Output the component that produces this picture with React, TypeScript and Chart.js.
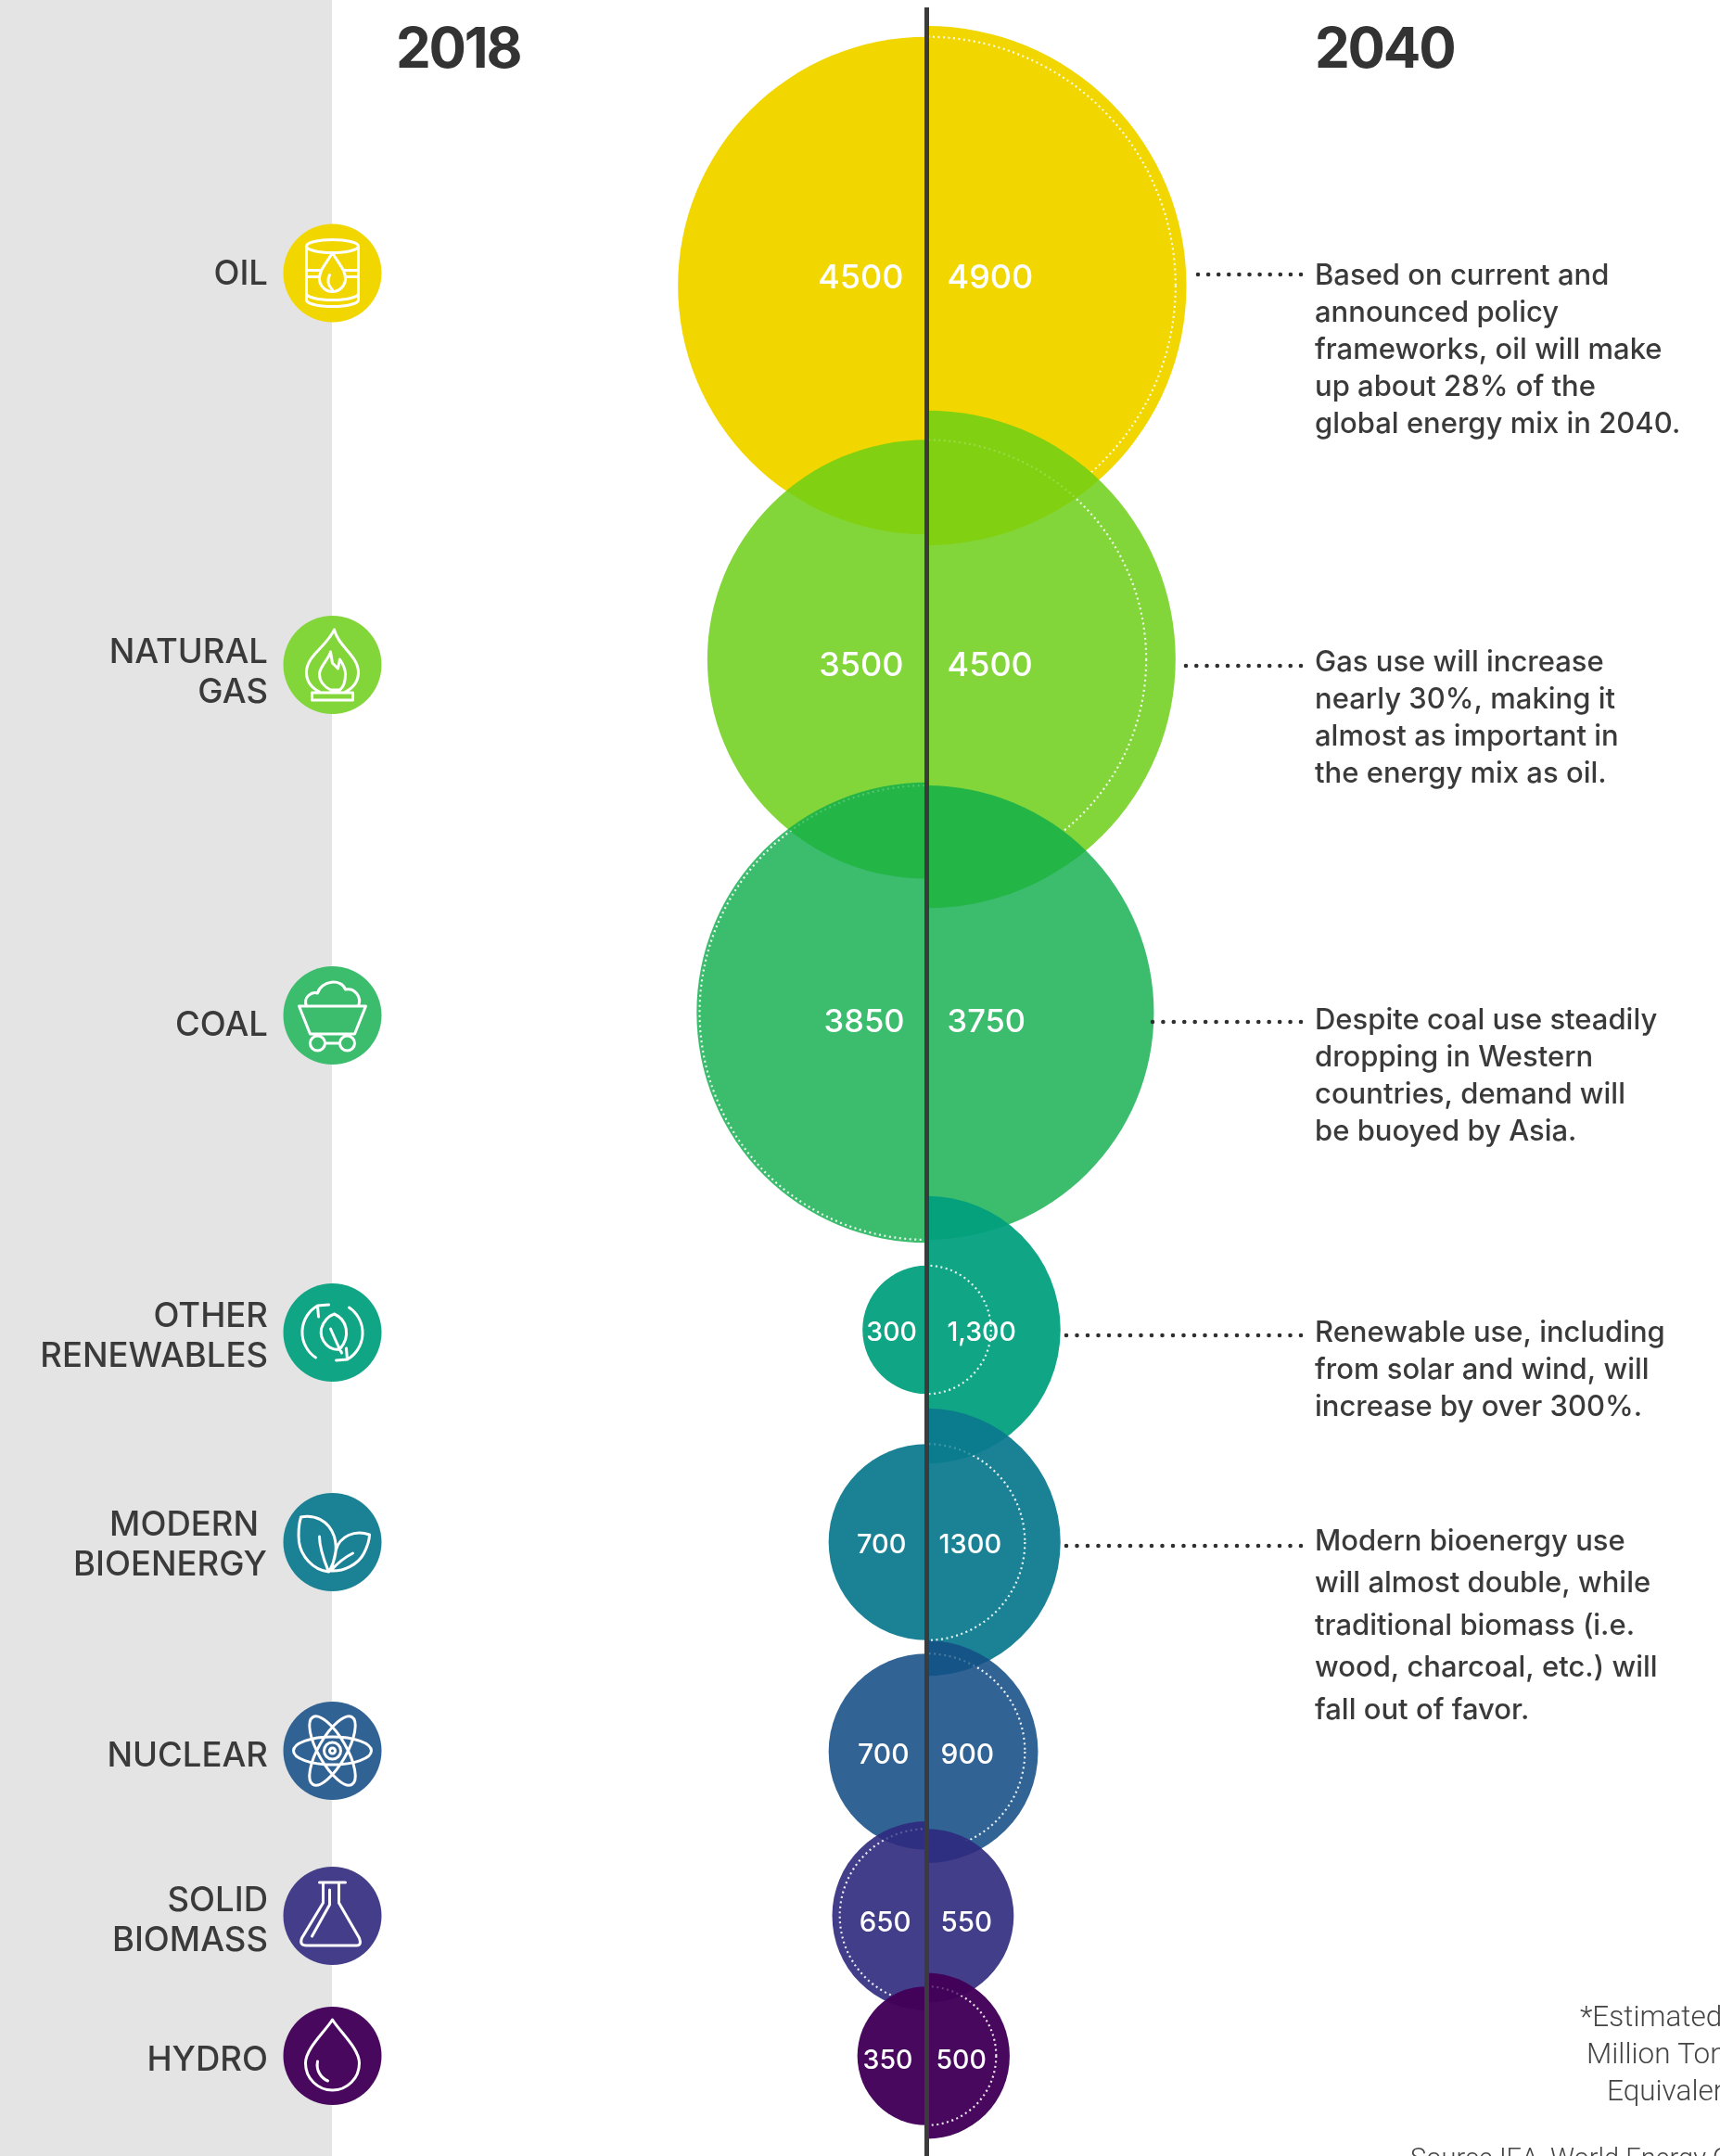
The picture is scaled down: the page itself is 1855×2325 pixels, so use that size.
import React, { useEffect, useRef } from "react";
import { Chart, registerables } from "chart.js";

Chart.register(...registerables);

// ---- data -------------------------------------------------------------
const categories = ["OIL", "NATURAL GAS", "COAL", "OTHER RENEWABLES", "MODERN BIOENERGY", "NUCLEAR", "SOLID BIOMASS", "HYDRO"];
const values2018 = [4500, 3500, 3850, 300, 700, 700, 650, 350];
const values2040 = [4900, 4500, 3750, 1300, 1300, 900, 550, 500];
const labels2018 = ["4500", "3500", "3850", "300", "700", "700", "650", "350"];
const labels2040 = ["4900", "4500", "3750", "1,300", "1300", "900", "550", "500"];
const categoryLines = [["OIL"], ["NATURAL", "GAS"], ["COAL"], ["OTHER", "RENEWABLES"], ["MODERN", "BIOENERGY"], ["NUCLEAR"], ["SOLID", "BIOMASS"], ["HYDRO"]];
const notes = [
  ["Based on current and", "announced policy", "frameworks, oil will make", "up about 28% of the", "global energy mix in 2040."],
  ["Gas use will increase", "nearly 30%, making it", "almost as important in", "the energy mix as oil."],
  ["Despite coal use steadily", "dropping in Western", "countries, demand will", "be buoyed by Asia."],
  ["Renewable use, including", "from solar and wind, will", "increase by over 300%."],
  ["Modern bioenergy use", "will almost double, while", "traditional biomass (i.e.", "wood, charcoal, etc.) will", "fall out of favor."],
];
const footnote = ["*Estimated in", "Million Tons of Oil", "Equivalent"];
const source = "Source IEA, World Energy Outlook 2019";

// ---- layout and style ---------------------------------------------------
const W = 1855;
const H = 2325;
const AXIS_X = 999.5;
const K = 4; // radius per sqrt(value)
const bubbleY = [308, 711, 1092, 1434, 1663, 1889, 2066, 2217];
const iconY = [294.5, 717, 1095, 1437, 1663, 1888, 2066, 2217];
const labelY = [300, 718, 1103, 1437, 1666, 1893, 2074, 2222];
const gapLeft = [25, 25, 24, 10.5, 22, 19, 17, 15];
const gapRight = [22, 22, 22, 22, 13, 15, 15, 10];
const valueSize = [36, 36, 34.5, 28.5, 29, 30, 29.5, 28.5];
const colors = [[242, 214, 0], [131, 214, 58], [60, 189, 110], [16, 165, 133], [27, 130, 150], [48, 98, 148], [68, 62, 138], [72, 8, 94]];
const alphas = [1, 0.84, 0.8, 0.94, 0.93, 0.88, 0.9, 0.97];
const catLabelY = [[296], [704, 747], [1106], [1420, 1463], [1645, 1688], [1894], [2050, 2093], [2222]];
const catRight = [[289], [289, 289], [289], [289, 289], [279, 288], [289], [289, 289], [289]];
const leaders = [[1292, 296], [1279, 718], [1243, 1102], [1150, 1440], [1150, 1667]];
const noteY = [297.5, 714.5, 1100.5, 1437.5, 1662.5];
const noteStep = [40, 40, 40, 40, 45.5];
const footX = [1704, 1711, 1733];
const footY = [2185, 2225, 2265];

const iconPaths = [
  "M-28,-29 a28,7 0 1,0 56,0 a28,7 0 1,0 -56,0 Z M-28,-29 V29 a28,7 0 0,0 56,0 V-29 M-28,22 a28,7 0 0,0 56,0 M-28,-3 H-12 M12,-3 H28 M-28,4 H-14 M14,4 H28 M0,-22 C6,-11 14,-4 14,6 A14,14 0 0,1 -14,6 C-14,-4 -6,-11 0,-22 Z M-3,2 C-6,8 -4,14 0,18",
  "M2,-38 C6,-20 28,-10 28,8 C28,20 20,26 14,29 M-14,29 C-22,25 -28,18 -28,8 C-28,-10 -6,-20 2,-38 M-2,-14 C-4,-6 -14,2 -14,10 C-14,18 -8,24 -2,27 L8,27 C12,24 14,18 14,10 C14,4 12,0 8,-6 L6,4 L0,-2 Z M-22,30 H22 V38 H-22 Z",
  "M-36,-10 H36 L24,20 H-24 Z M-28,-10 C-32,-20 -22,-26 -16,-24 C-12,-38 10,-40 14,-28 C24,-30 32,-20 28,-10 M-16,38 a8,8 0 1,0 0,-16 a8,8 0 1,0 0,16 Z M16,38 a8,8 0 1,0 0,-16 a8,8 0 1,0 0,16 Z M-8,30 H8",
  "M-18,27 A33,33 0 0,1 -16,-29 M-16,-29 L-4,-30 M-16,-29 L-15,-17 M18,-27 A33,33 0 0,1 16,29 M16,29 L4,30 M16,29 L15,17 M2,-20 C16,-14 20,4 8,18 C-4,20 -14,8 -12,-4 C-10,-12 -4,-18 2,-20 Z M-2,-4 L6,14 L10,22",
  "M-34,-27 C-20,-30 -4,-24 2,-6 C6,8 2,22 -4,32 C-22,30 -34,14 -36,0 C-37,-10 -36,-20 -34,-27 Z M-14,-6 C-14,8 -8,22 -4,32 M40,-8 C24,-14 8,-6 4,8 C2,18 0,26 -2,31 C12,32 28,24 34,12 C38,4 40,-2 40,-8 Z M-2,31 C6,22 14,16 22,12",
  "M-42,0 A42,15 0 1,0 42,0 A42,15 0 1,0 -42,0 Z M-21,-36.4 A42,15 60 1,0 21,36.4 A42,15 60 1,0 -21,-36.4 Z M-21,36.4 A42,15 -60 1,0 21,-36.4 A42,15 -60 1,0 -21,36.4 Z M-9,0 a9,9 0 1,0 18,0 a9,9 0 1,0 -18,0 Z M-3,0 a3,3 0 1,0 6,0 a3,3 0 1,0 -6,0 Z",
  "M-14,-36 H14 M-10,-36 V-14 L-33,24 Q-36,32 -28,32 H26 Q32,32 29,24 L7,-14 V-36 M-3,-28 V-12 L-22,22",
  "M0,-39 C8,-26 29,-8 29,8 A28,28 0 0,1 -29,8 C-29,-8 -8,-26 0,-39 Z M-16,6 C-18,16 -12,24 -5,27",
];

const radius = (v: number) => K * Math.sqrt(v);
const fill = (i: number) => {
  const a = alphas[i];
  const c = colors[i].map((t) => Math.max(0, Math.round((t - 255 * (1 - a)) / a)));
  return `rgba(${c[0]},${c[1]},${c[2]},${a})`;
};
const solid = (i: number) => `rgb(${colors[i].join(",")})`;

// where a ring is hidden by a neighbouring bubble on the same side
const meetY = (c: number, r: number, d: number, R: number) => {
  if (Math.abs(c - d) >= r + R) return null;
  const y = (c + d) / 2 + (R * R - r * r) / (2 * (c - d));
  return Math.abs(y - c) < r ? y : null;
};

const ringDatasets = categories.flatMap((_, i) => {
  const leftSide = values2018[i] > values2040[i];
  const ringValue = Math.min(values2018[i], values2040[i]);
  const sideValues = leftSide ? values2018 : values2040;
  const r = radius(ringValue);
  const c = bubbleY[i];
  const up = i > 0 ? meetY(c, r, bubbleY[i - 1], radius(sideValues[i - 1])) : null;
  const down = i < categories.length - 1 ? meetY(c, r, bubbleY[i + 1], radius(sideValues[i + 1])) : null;
  const base = {
    order: 1,
    ring: true,
    data: [{ x: 0, y: c, r }],
    backgroundColor: "rgba(0,0,0,0)",
    borderWidth: 2.2,
  };
  const sideClip = { left: leftSide ? 0 : -AXIS_X, right: leftSide ? -(W - AXIS_X) : 0 };
  const main = {
    ...base,
    label: `ring ${categories[i]}`,
    borderColor: "rgba(255,255,255,0.9)",
    clip: { ...sideClip, top: up === null ? 0 : -up, bottom: down === null ? 0 : down - H },
  };
  if (up === null) return [main];
  const faint = {
    ...base,
    label: `ring ${categories[i]} (under overlap)`,
    borderColor: "rgba(255,255,255,0.22)",
    clip: { ...sideClip, top: 0, bottom: up - H },
  };
  return [main, faint];
});

const text = (ctx: any, s: string, x: number, y: number, font: string, color: string, align = "left", spacing = "0px", baseline = "middle") => {
  ctx.font = font;
  ctx.fillStyle = color;
  ctx.textAlign = align;
  ctx.textBaseline = baseline;
  ctx.letterSpacing = spacing;
  ctx.fillText(s, x, y);
  ctx.letterSpacing = "0px";
};

const artPlugin = {
  id: "art",
  beforeDraw(chart: any) {
    const { ctx } = chart;
    ctx.save();
    ctx.fillStyle = "#ffffff";
    ctx.fillRect(0, 0, W, H);
    ctx.fillStyle = "#E4E4E4";
    ctx.fillRect(0, 0, 358, H);
    ctx.restore();
  },
  beforeDatasetDraw(chart: any, args: any) {
    const ds = chart.data.datasets[args.index];
    if (ds.ring) {
      chart.ctx.save();
      chart.ctx.setLineDash([2, 3.5]);
    }
  },
  afterDatasetDraw(chart: any, args: any) {
    const ds = chart.data.datasets[args.index];
    if (ds.ring) chart.ctx.restore();
  },
  afterDatasetsDraw(chart: any) {
    const { ctx, scales } = chart;
    const xs = scales.x;
    const ys = scales.y;
    const cx = xs.getPixelForValue(0);
    ctx.save();

    // centre line
    ctx.strokeStyle = "#3b3b3b";
    ctx.lineWidth = 5;
    ctx.beginPath();
    ctx.moveTo(cx, 8);
    ctx.lineTo(cx, H);
    ctx.stroke();

    // leaders
    ctx.strokeStyle = "#2f2f2f";
    ctx.lineWidth = 4.6;
    ctx.lineCap = "round";
    leaders.forEach(([x, y]) => {
      const len = 1403 - x;
      ctx.setLineDash([0, len / Math.round(len / 11.5)]);
      ctx.beginPath();
      ctx.moveTo(x, y);
      ctx.lineTo(1403.5, y);
      ctx.stroke();
    });
    ctx.setLineDash([]);
    ctx.lineCap = "butt";

    // bubble values
    categories.forEach((_, i) => {
      const y = ys.getPixelForValue(labelY[i]);
      const font = `500 ${valueSize[i]}px Inter`;
      text(ctx, labels2018[i], cx - gapLeft[i], y, font, "#ffffff", "right");
      text(ctx, labels2040[i], cx + gapRight[i], y, font, "#ffffff", "left");
    });

    // titles
    text(ctx, "2018", 427, 73, "700 60px Inter", "#333333", "left", "-2.2px", "alphabetic");
    text(ctx, "2040", 1418, 73, "700 60px Inter", "#333333", "left", "-2.2px", "alphabetic");

    // category labels
    categoryLines.forEach((lines, i) => {
      lines.forEach((s, j) => {
        text(ctx, s, catRight[i][j], catLabelY[i][j], "500 36.5px Inter", "#3a3a3a", "right");
      });
    });

    // icons
    ctx.strokeStyle = "#ffffff";
    ctx.lineWidth = 3;
    ctx.lineJoin = "round";
    ctx.lineCap = "round";
    iconPaths.forEach((d, i) => {
      ctx.save();
      ctx.translate(358.5, iconY[i]);
      ctx.stroke(new Path2D(d));
      ctx.restore();
    });

    // notes
    notes.forEach((lines, i) => {
      lines.forEach((s, j) => {
        text(ctx, s, 1418, noteY[i] + j * noteStep[i], "500 31px Inter", "#3a3a3a");
      });
    });

    // footnotes
    footnote.forEach((s, j) => {
      text(ctx, s, footX[j], footY[j], "300 31.5px Roboto", "#444444", "left", "0px", "alphabetic");
    });
    text(ctx, source, 1521, 2337, "300 29px Roboto", "#444444", "left", "0px", "alphabetic");
    ctx.restore();
  },
};

export default function App() {
  const ref = useRef<HTMLCanvasElement>(null);
  useEffect(() => {
    document.body.style.margin = "0";
    const chart = new Chart(ref.current as HTMLCanvasElement, {
      type: "bubble",
      data: {
        datasets: [
          ...ringDatasets,
          {
            label: "2018",
            order: 2,
            data: values2018.map((v, i) => ({ x: 0, y: bubbleY[i], r: radius(v) })),
            backgroundColor: categories.map((_, i) => fill(i)),
            borderWidth: 0,
            clip: { left: 0, right: -(W - AXIS_X), top: 0, bottom: 0 },
          },
          {
            label: "2040",
            order: 2,
            data: values2040.map((v, i) => ({ x: 0, y: bubbleY[i], r: radius(v) })),
            backgroundColor: categories.map((_, i) => fill(i)),
            borderWidth: 0,
            clip: { left: -AXIS_X, right: 0, top: 0, bottom: 0 },
          },
          {
            label: "icons",
            order: 3,
            data: categories.map((_, i) => ({ x: 358.5 - AXIS_X, y: iconY[i], r: 53 })),
            backgroundColor: categories.map((_, i) => solid(i)),
            borderWidth: 0,
            clip: false,
          },
        ],
      } as any,
      options: {
        responsive: false,
        animation: false,
        events: [],
        layout: { autoPadding: false, padding: 0 },
        plugins: { legend: { display: false }, tooltip: { enabled: false } },
        scales: {
          x: { type: "linear", display: false, min: -AXIS_X, max: W - AXIS_X },
          y: { type: "linear", display: false, min: 0, max: H, reverse: true },
        },
      } as any,
      plugins: [artPlugin as any],
    });
    return () => chart.destroy();
  }, []);
  return <canvas ref={ref} width={W} height={H} style={{ display: "block", width: W, height: H }} />;
}
